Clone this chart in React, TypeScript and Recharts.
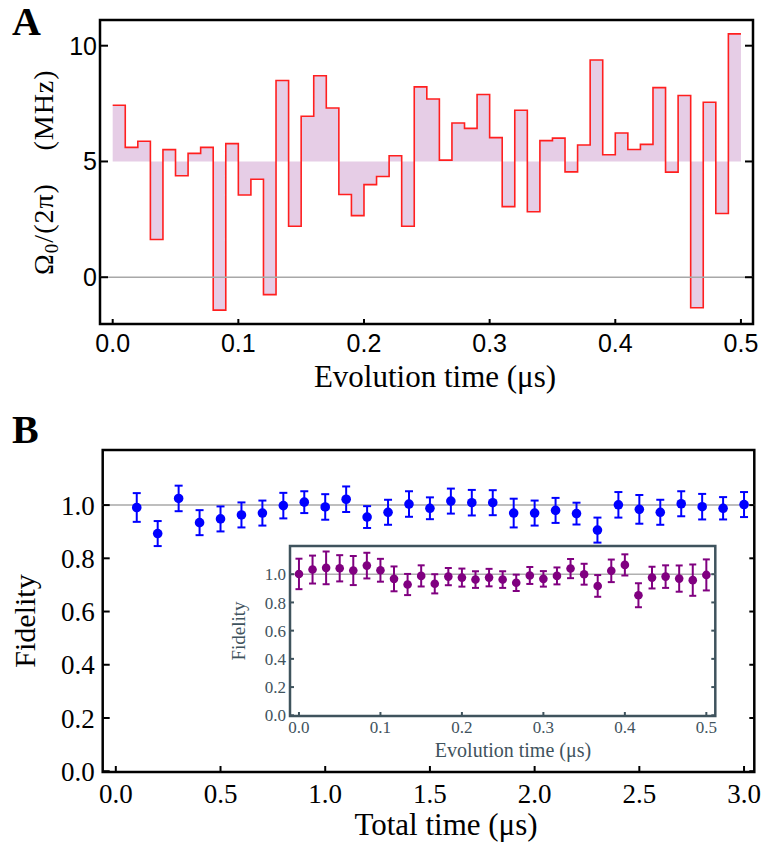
import React from "react";
import {
  ComposedChart,
  Area,
  Scatter,
  ErrorBar,
  XAxis,
  YAxis,
  ReferenceLine,
  ReferenceArea,
} from "recharts";

// Panel A: piecewise-constant drive amplitude, one value per 0.01 µs slot
const stepWidth = 0.01;
const omegaSteps = [
  7.43, 5.61, 5.87, 1.63, 5.51, 4.38, 5.35, 5.61, -1.42, 5.77,
  3.55, 4.23, -0.75, 8.5, 2.2, 6.95, 8.7, 7.31, 3.57, 2.66,
  4.0, 4.35, 5.25, 2.2, 8.22, 7.7, 5.06, 6.66, 6.43, 7.89,
  6.03, 3.05, 7.21, 2.83, 5.9, 6.01, 4.55, 5.71, 9.38, 5.29,
  6.23, 5.52, 5.74, 8.19, 4.54, 7.85, -1.32, 7.56, 2.75, 10.51,
];
const omegaBase = 5;
const aXTicks = [0, 0.1, 0.2, 0.3, 0.4, 0.5];
const aYTicks = [0, 5, 10];

// Panel B: fidelity vs total time
const totalTimes = [
  0.1, 0.2, 0.3, 0.4, 0.5, 0.6, 0.7, 0.8, 0.9, 1.0,
  1.1, 1.2, 1.3, 1.4, 1.5, 1.6, 1.7, 1.8, 1.9, 2.0,
  2.1, 2.2, 2.3, 2.4, 2.5, 2.6, 2.7, 2.8, 2.9, 3.0,
];
const totalFid = [
  0.991, 0.893, 1.025, 0.934, 0.948, 0.963, 0.97, 0.998, 1.011, 0.993,
  1.022, 0.955, 0.973, 1.004, 0.988, 1.015, 1.009, 1.009, 0.97, 0.97,
  0.98, 0.968, 0.906, 1.001, 0.984, 0.973, 1.005, 0.994, 0.988, 1.002,
];
const totalErr = [
  0.054, 0.047, 0.048, 0.047, 0.047, 0.047, 0.047, 0.048, 0.041, 0.048,
  0.048, 0.041, 0.047, 0.048, 0.041, 0.047, 0.048, 0.047, 0.054, 0.047,
  0.047, 0.041, 0.047, 0.048, 0.054, 0.047, 0.047, 0.048, 0.042, 0.047,
];
const bXTicks = [0, 0.5, 1.0, 1.5, 2.0, 2.5, 3.0];
const bYTicks = [0, 0.2, 0.4, 0.6, 0.8, 1.0];

// Inset: fidelity vs evolution time, sampled every 1/60 µs
const insetStep = 1 / 60;
const insetFid = [
  1.002, 1.033, 1.045, 1.042, 1.026, 1.061, 1.028, 0.967, 0.927, 0.988,
  0.932, 0.983, 0.976, 0.962, 0.976, 0.962, 0.939, 0.991, 0.967, 0.988,
  1.04, 1.0, 0.917, 1.024, 1.066, 0.851, 0.976, 0.983, 0.969, 0.958, 0.995,
];
const insetErr = [
  0.108, 0.099, 0.116, 0.093, 0.103, 0.091, 0.081, 0.088, 0.075, 0.075,
  0.068, 0.061, 0.064, 0.059, 0.062, 0.059, 0.058, 0.06, 0.055, 0.06,
  0.068, 0.074, 0.077, 0.08, 0.075, 0.085, 0.077, 0.08, 0.093, 0.111, 0.11,
];
const insetXTicks = [0, 0.1, 0.2, 0.3, 0.4, 0.5];
const insetYTicks = [0, 0.2, 0.4, 0.6, 0.8, 1.0];

const SANS = "'Liberation Sans', Arial, sans-serif";
const SERIF = "'Liberation Serif', 'Times New Roman', serif";
const INSET_COLOR = "#3f535d";

const omegaData = [
  ...omegaSteps.map((v, i) => ({ t: i * stepWidth, omega: v })),
  { t: omegaSteps.length * stepWidth, omega: omegaSteps[omegaSteps.length - 1] },
];
const totalData = totalTimes.map((t, i) => ({ t, f: totalFid[i], e: totalErr[i] }));
const insetData = insetFid.map((f, i) => ({ t: i * insetStep, f, e: insetErr[i] }));

type TickOpts = {
  len: number;
  gap?: number;
  color: string;
  width: number;
  font?: string;
  size?: number;
  fmt?: (v: number) => string;
};

const leftTick = (o: TickOpts) => (props: any) => {
  const { x, y, payload } = props;
  return (
    <g>
      <line x1={x} x2={x + o.len} y1={y} y2={y} stroke={o.color} strokeWidth={o.width} />
      <text
        x={x - (o.gap ?? 4)}
        y={y}
        dy="0.36em"
        textAnchor="end"
        fontFamily={o.font}
        fontSize={o.size}
        fill={o.color}
      >
        {o.fmt ? o.fmt(payload.value) : payload.value}
      </text>
    </g>
  );
};

const rightTick = (o: TickOpts) => (props: any) => {
  const { x, y } = props;
  return <line x1={x} x2={x - o.len} y1={y} y2={y} stroke={o.color} strokeWidth={o.width} />;
};

const bottomTick = (o: TickOpts) => (props: any) => {
  const { x, y, payload } = props;
  return (
    <g>
      <line x1={x} x2={x} y1={y} y2={y - o.len} stroke={o.color} strokeWidth={o.width} />
      <text
        x={x}
        y={y + (o.gap ?? 4)}
        dy="0.75em"
        textAnchor="middle"
        fontFamily={o.font}
        fontSize={o.size}
        fill={o.color}
      >
        {o.fmt ? o.fmt(payload.value) : payload.value}
      </text>
    </g>
  );
};

const fix1 = (v: number) => v.toFixed(1);

function PanelA() {
  const xDom: [number, number] = [-0.0101, 0.5096];
  const yDom: [number, number] = [-2.02, 11.11];
  return (
    <ComposedChart
      width={761}
      height={400}
      data={omegaData}
      margin={{ top: 20, right: 6, bottom: 36, left: 40 }}
    >
      <XAxis
        dataKey="t"
        type="number"
        domain={xDom}
        ticks={aXTicks}
        height={40}
        axisLine={false}
        tickLine={false}
        tickSize={0}
        tickMargin={0}
        interval={0}
        allowDataOverflow
        tick={bottomTick({ len: 5, gap: 9, color: "#000", width: 2, font: SANS, size: 25, fmt: fix1 })}
      />
      <YAxis
        type="number"
        domain={yDom}
        ticks={aYTicks}
        width={60}
        axisLine={false}
        tickLine={false}
        tickSize={0}
        tickMargin={0}
        interval={0}
        allowDataOverflow
        tick={leftTick({ len: 8, gap: 3, color: "#000", width: 2, font: SANS, size: 25, fmt: (v) => String(v) })}
      />
      <YAxis
        yAxisId="r"
        orientation="right"
        type="number"
        domain={yDom}
        ticks={aYTicks}
        width={2}
        axisLine={false}
        tickLine={false}
        tickSize={0}
        tickMargin={0}
        interval={0}
        allowDataOverflow
        tick={rightTick({ len: 8, color: "#000", width: 2 })}
      />
      <Area
        type="stepAfter"
        dataKey="omega"
        baseValue={omegaBase}
        stroke="#ff1f1f"
        strokeWidth={1.6}
        fill="#e6cde6"
        fillOpacity={1}
        dot={false}
        activeDot={false}
        isAnimationActive={false}
      />
      <ReferenceLine y={0} stroke="#a8a8a8" strokeWidth={1.5} />
      <ReferenceArea
        x1={xDom[0]}
        x2={xDom[1]}
        y1={yDom[0]}
        y2={yDom[1]}
        fill="none"
        stroke="#000"
        strokeWidth={2.5}
        ifOverflow="visible"
      />
    </ComposedChart>
  );
}

function PanelB() {
  const xDom: [number, number] = [-0.0626, 3.049];
  const yDom: [number, number] = [-0.003, 1.207];
  return (
    <ComposedChart
      width={761}
      height={420}
      margin={{ top: 20, right: 4.7, bottom: 38, left: 42.7 }}
    >
      <XAxis
        dataKey="t"
        type="number"
        domain={xDom}
        ticks={bXTicks}
        height={40}
        axisLine={false}
        tickLine={false}
        tickSize={0}
        tickMargin={0}
        interval={0}
        allowDataOverflow
        tick={bottomTick({ len: 6, gap: 11, color: "#000", width: 2, font: SERIF, size: 27, fmt: fix1 })}
      />
      <YAxis
        type="number"
        domain={yDom}
        ticks={bYTicks}
        width={60}
        axisLine={false}
        tickLine={false}
        tickSize={0}
        tickMargin={0}
        interval={0}
        allowDataOverflow
        tick={leftTick({ len: 7, gap: 8, color: "#000", width: 2, font: SERIF, size: 27, fmt: fix1 })}
      />
      <YAxis
        yAxisId="r"
        orientation="right"
        type="number"
        domain={yDom}
        ticks={bYTicks}
        width={2}
        axisLine={false}
        tickLine={false}
        tickSize={0}
        tickMargin={0}
        interval={0}
        allowDataOverflow
        tick={rightTick({ len: 5, color: "#000", width: 2 })}
      />
      <ReferenceLine y={1} stroke="#a8a8a8" strokeWidth={1.5} />
      <Scatter
        data={totalData}
        dataKey="f"
        fill="#0000ff"
        isAnimationActive={false}
        shape={(p: any) => <circle cx={p.cx} cy={p.cy} r={4.8} fill="#0000ff" />}
      >
        <ErrorBar dataKey="e" direction="y" width={4} stroke="#0000ff" strokeWidth={2} isAnimationActive={false} />
      </Scatter>
      <ReferenceArea
        x1={xDom[0]}
        x2={xDom[1]}
        y1={yDom[0]}
        y2={yDom[1]}
        fill="none"
        stroke="#000"
        strokeWidth={2.5}
        ifOverflow="visible"
      />
    </ComposedChart>
  );
}

function Inset() {
  const xDom: [number, number] = [-0.011, 0.511];
  const yDom: [number, number] = [-0.005, 1.2];
  return (
    <ComposedChart
      width={540}
      height={230}
      margin={{ top: 16, right: 22.7, bottom: 14, left: 30 }}
    >
      <XAxis
        dataKey="t"
        type="number"
        domain={xDom}
        ticks={insetXTicks}
        height={30}
        axisLine={false}
        tickLine={false}
        tickSize={0}
        tickMargin={0}
        interval={0}
        allowDataOverflow
        tick={bottomTick({ len: 4, gap: 4, color: INSET_COLOR, width: 2, font: SERIF, size: 17, fmt: fix1 })}
      />
      <YAxis
        type="number"
        domain={yDom}
        ticks={insetYTicks}
        width={60}
        axisLine={false}
        tickLine={false}
        tickSize={0}
        tickMargin={0}
        interval={0}
        allowDataOverflow
        tick={leftTick({ len: 4, gap: 4, color: INSET_COLOR, width: 2, font: SERIF, size: 17, fmt: fix1 })}
      />
      <YAxis
        yAxisId="r"
        orientation="right"
        type="number"
        domain={yDom}
        ticks={insetYTicks}
        width={2}
        axisLine={false}
        tickLine={false}
        tickSize={0}
        tickMargin={0}
        interval={0}
        allowDataOverflow
        tick={rightTick({ len: 4, color: INSET_COLOR, width: 2 })}
      />
      <ReferenceLine y={1} stroke="#b0b0b0" strokeWidth={1.5} />
      <Scatter
        data={insetData}
        dataKey="f"
        fill="#800080"
        isAnimationActive={false}
        shape={(p: any) => <circle cx={p.cx} cy={p.cy} r={4.3} fill="#800080" />}
      >
        <ErrorBar dataKey="e" direction="y" width={3.5} stroke="#800080" strokeWidth={2} isAnimationActive={false} />
      </Scatter>
      <ReferenceArea
        x1={xDom[0]}
        x2={xDom[1]}
        y1={yDom[0]}
        y2={yDom[1]}
        fill="none"
        stroke={INSET_COLOR}
        strokeWidth={2.5}
        ifOverflow="visible"
      />
    </ComposedChart>
  );
}

function Labels() {
  return (
    <svg
      width={761}
      height={850}
      style={{ position: "absolute", left: 0, top: 0, pointerEvents: "none" }}
    >
      <text x={12} y={35} fontFamily={SERIF} fontWeight="bold" fontSize={40}>A</text>
      <text x={12} y={443} fontFamily={SERIF} fontWeight="bold" fontSize={40}>B</text>

      <g transform="translate(53,229) rotate(-90)">
        <text x={0} y={0} textAnchor="middle" fontFamily={SERIF} fontSize={28} letterSpacing={1}>
          Ω<tspan fontSize={19} dy={5}>0</tspan>
          <tspan dy={-5}>/(2π)</tspan>
        </text>
      </g>
      <g transform="translate(53,110) rotate(-90)">
        <text x={0} y={0} textAnchor="middle" fontFamily={SERIF} fontSize={28} letterSpacing={1}>
          (MHz)
        </text>
      </g>
      <text x={435} y={387} textAnchor="middle" fontFamily={SERIF} fontSize={31}>
        Evolution time (μs)
      </text>

      <g transform="translate(35,621) rotate(-90)">
        <text x={0} y={0} textAnchor="middle" fontFamily={SERIF} fontSize={30}>Fidelity</text>
      </g>
      <text x={446} y={835} textAnchor="middle" fontFamily={SERIF} fontSize={31}>
        Total time (μs)
      </text>

      <g transform="translate(245,631) rotate(-90)">
        <text x={0} y={0} textAnchor="middle" fontFamily={SERIF} fontSize={19} fill={INSET_COLOR}>
          Fidelity
        </text>
      </g>
      <text x={513} y={757} textAnchor="middle" fontFamily={SERIF} fontSize={20} fill={INSET_COLOR}>
        Evolution time (μs)
      </text>
    </svg>
  );
}

export default function App() {
  return (
    <div style={{ position: "absolute", left: 0, top: 0, width: 761, height: 850, background: "#fff" }}>
      <div style={{ position: "absolute", left: 0, top: 0 }}>
        <PanelA />
      </div>
      <div style={{ position: "absolute", left: 0, top: 430 }}>
        <PanelB />
      </div>
      <div style={{ position: "absolute", left: 200, top: 530 }}>
        <Inset />
      </div>
      <Labels />
    </div>
  );
}
